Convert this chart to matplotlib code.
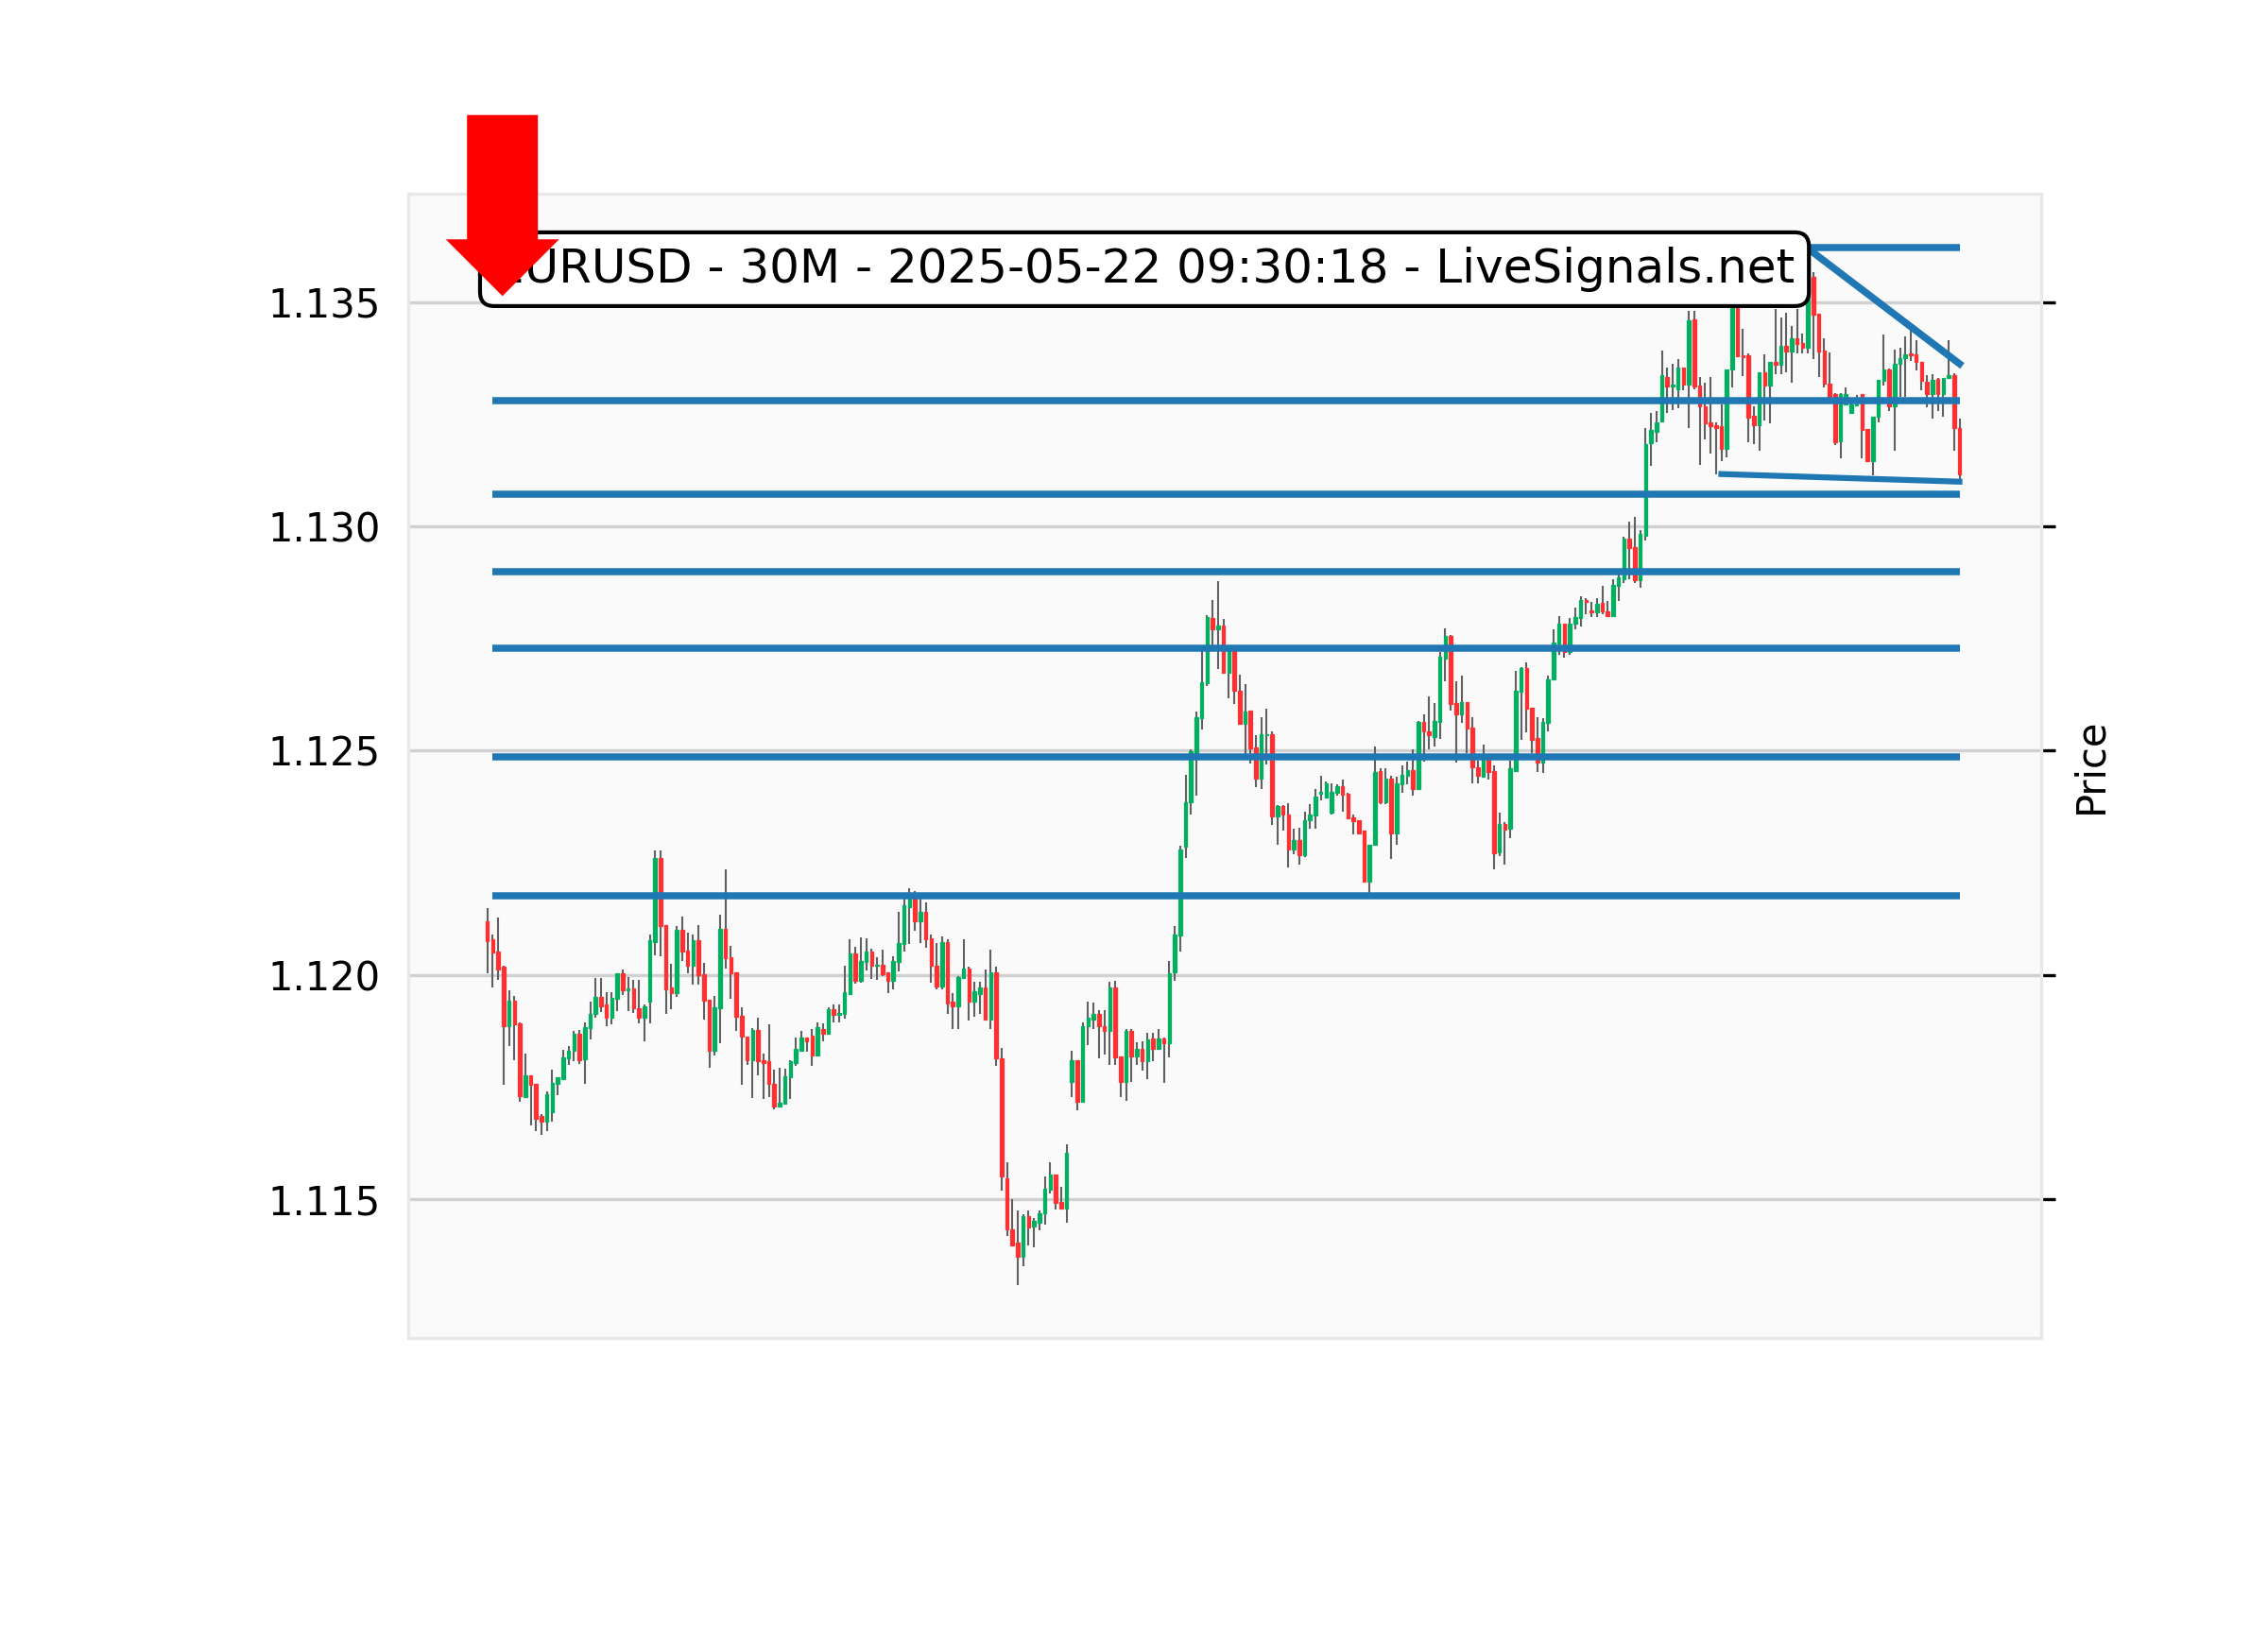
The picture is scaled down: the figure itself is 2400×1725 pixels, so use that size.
import matplotlib
matplotlib.use("Agg")
import matplotlib.pyplot as plt
from matplotlib.patches import FancyArrow
from matplotlib.ticker import FormatStrFormatter
import numpy as np

BASE = 1.1200

open_pips = [
    11.9, 7.9, 5.1, 1.8, -11.4, -5.8, -10.9, -27.2, -22.3, -24.4,
    -31.5, -32.7, -30.6, -24.2, -23.2, -18.6, -17.0, -13.2, -18.8, -11.9,
    -8.8, -4.9, -6.7, -9.6, -5.4, 0.4, -3.5, -3.0, -7.4, -9.6,
    -6.0, 7.4, 26.0, 11.2, -2.8, -4.0, 10.0, 5.4, 2.0, 7.7,
    0.1, -5.6, -17.0, -7.4, 10.2, 3.9, 0.5, -9.1, -13.7, -19.1,
    -12.2, -19.1, -19.3, -24.3, -29.4, -28.8, -22.9, -19.6, -16.9, -13.9,
    -13.5, -17.9, -12.1, -13.2, -7.7, -9.0, -8.7, -4.2, 4.7, -1.4,
    2.8, 5.3, 2.0, 2.3, 0.5, -1.4, 2.8, 6.8, 15.2, 17.0,
    11.9, 14.0, 8.1, 2.1, -2.5, 7.4, -6.0, -7.0, -0.6, 1.5,
    -6.0, -4.2, -2.7, -10.0, 0.5, -18.6, -45.3, -56.7, -59.8, -62.8,
    -53.9, -56.2, -55.2, -53.2, -47.8, -44.6, -50.6, -52.2, -23.9, -19.1,
    -28.3, -11.5, -9.9, -8.6, -11.4, -12.5, -2.8, -18.1, -23.9, -12.5,
    -18.1, -16.5, -19.3, -14.2, -16.4, -14.1, -15.3, 0.5, 8.8, 28.6,
    38.4, 49.5, 57.2, 65.1, 79.7, 77.1, 78.0, 67.3, 72.7, 63.4,
    56.0, 59.0, 50.8, 43.8, 53.4, 53.7, 35.4, 37.6, 35.8, 27.9,
    30.0, 26.7, 34.6, 35.5, 40.5, 39.5, 36.2, 40.7, 42.1, 40.4,
    35.2, 34.4, 32.1, 20.9, 29.0, 45.4, 38.4, 43.7, 31.6, 42.6,
    44.4, 45.6, 41.4, 56.4, 54.3, 53.0, 56.4, 70.6, 75.5, 60.6,
    58.1, 60.8, 55.1, 46.4, 44.2, 48.1, 45.4, 27.4, 33.7, 32.7,
    45.4, 63.2, 68.4, 59.5, 52.8, 47.4, 56.3, 65.8, 74.0, 78.4,
    72.0, 78.3, 79.5, 83.6, 81.3, 80.8, 82.9, 81.1, 80.1, 86.8,
    88.3, 97.3, 95.3, 88.0, 98.0, 118.5, 121.1, 123.5, 133.3, 131.3,
    130.5, 135.4, 131.7, 146.1, 131.5, 126.8, 123.2, 122.5, 122.3, 117.3,
    135.0, 150.0, 138.2, 138.2, 124.7, 122.5, 134.3, 131.4, 136.7, 136.1,
    140.3, 139.1, 141.9, 140.9, 139.8, 155.6, 147.4, 139.2, 131.9, 129.6,
    119.1, 127.2, 125.3, 127.0, 129.6, 121.7, 114.5, 124.4, 132.4, 135.1,
    126.8, 136.3, 137.6, 138.6, 138.4, 136.7, 132.3, 129.6, 132.9, 129.6,
    133.1, 133.7, 121.9,
]

high_pips = [
    14.8, 9.1, 12.8, 2.0, -3.5, -4.6, -10.7, -17.6, -22.3, -24.4,
    -31.1, -26.0, -21.2, -22.8, -16.7, -15.8, -12.5, -12.3, -10.5, -6.0,
    -0.7, -0.8, -3.9, -3.9, 0.4, 1.1, -0.5, -1.1, -1.1, -6.7,
    9.1, 27.8, 27.8, 11.2, 2.5, 11.0, 12.9, 9.5, 9.1, 11.1,
    2.7, -5.6, -4.7, 13.4, 23.5, 6.5, 0.5, -7.2, -13.7, -11.8,
    -9.5, -17.6, -11.1, -21.1, -20.7, -20.9, -19.0, -14.0, -12.5, -13.9,
    -12.1, -10.5, -10.9, -7.3, -6.5, -6.7, 2.1, 7.9, 6.2, 8.3,
    8.1, 5.8, 4.0, 5.6, 0.5, 4.1, 14.0, 17.0, 19.3, 18.7,
    17.0, 16.1, 9.0, 7.0, 8.6, 7.9, -4.1, -0.2, 7.9, 1.9,
    -1.6, -1.6, 1.2, 5.6, 1.9, -16.2, -41.7, -50.1, -52.6, -53.4,
    -52.6, -54.3, -52.6, -45.0, -41.8, -44.6, -47.3, -37.8, -17.0, -19.1,
    -10.7, -6.0, -6.2, -7.9, -7.9, -1.6, -1.4, -18.1, -12.1, -12.0,
    -15.0, -14.9, -13.0, -13.0, -12.1, -14.0, 3.2, 10.9, 28.8, 44.6,
    50.2, 58.7, 73.0, 80.3, 83.6, 87.8, 79.4, 73.0, 73.4, 66.9,
    64.8, 59.0, 53.4, 57.4, 59.3, 54.4, 37.8, 37.8, 38.3, 32.5,
    32.8, 36.3, 38.1, 41.4, 44.4, 43.2, 42.8, 42.5, 43.6, 40.6,
    35.8, 34.4, 32.1, 29.1, 50.9, 46.0, 46.0, 44.4, 44.2, 46.8,
    47.5, 50.2, 56.7, 58.1, 62.2, 60.6, 72.1, 77.3, 75.9, 65.5,
    66.7, 60.8, 57.5, 47.7, 51.3, 48.8, 46.7, 36.2, 34.1, 47.7,
    67.8, 68.6, 69.6, 59.5, 57.4, 57.2, 66.7, 77.1, 80.1, 78.4,
    79.5, 82.0, 84.4, 84.0, 83.1, 84.0, 86.8, 83.4, 88.3, 89.6,
    97.8, 101.0, 102.2, 99.2, 121.9, 125.4, 125.8, 139.2, 135.5, 136.2,
    137.4, 135.4, 148.0, 148.0, 133.3, 132.1, 133.3, 123.3, 127.3, 135.0,
    152.0, 152.0, 144.0, 138.6, 126.8, 134.3, 138.4, 136.7, 148.6, 146.6,
    147.6, 144.7, 148.6, 143.0, 155.5, 156.7, 147.4, 141.9, 138.8, 129.8,
    129.8, 131.0, 127.5, 129.3, 129.6, 121.7, 124.4, 132.7, 142.9, 135.3,
    139.5, 139.9, 142.4, 143.8, 141.6, 136.7, 133.8, 134.0, 133.1, 133.1,
    141.6, 134.2, 124.1,
]

low_pips = [
    0.4, -2.8, -1.1, -24.5, -15.8, -19.0, -28.3, -27.2, -33.5, -34.8,
    -35.6, -34.8, -32.7, -26.8, -23.2, -20.0, -19.3, -19.9, -24.2, -14.4,
    -9.5, -8.2, -11.4, -11.0, -8.1, -4.4, -8.1, -8.4, -10.8, -14.8,
    -10.8, 4.4, 4.2, -8.6, -7.7, -4.9, 3.2, 0.4, -2.1, -2.1,
    -10.0, -20.7, -17.9, -15.3, 1.4, -5.3, -12.4, -24.5, -20.0, -27.4,
    -22.4, -27.6, -27.2, -29.9, -29.4, -29.0, -27.6, -20.3, -17.2, -17.2,
    -20.2, -17.9, -14.8, -13.3, -10.7, -10.6, -9.7, -4.2, -1.9, -1.8,
    1.0, -0.9, -1.2, -0.2, -4.0, -3.3, 0.8, 5.3, 6.8, 9.8,
    7.0, 6.0, -1.8, -3.2, -3.2, -8.7, -12.0, -12.0, -0.9, -10.2,
    -9.3, -8.8, -10.2, -12.0, -20.2, -48.2, -58.3, -60.3, -69.1, -64.9,
    -60.3, -60.8, -56.9, -55.7, -48.7, -52.4, -52.2, -55.2, -27.2, -30.2,
    -28.6, -15.7, -12.1, -18.6, -17.8, -20.0, -20.0, -27.2, -28.0, -23.8,
    -20.0, -21.4, -23.2, -19.2, -16.7, -24.0, -18.5, -1.3, 5.3, 26.0,
    35.7, 40.0, 54.8, 64.4, 72.8, 68.3, 67.3, 61.6, 60.4, 56.0,
    48.9, 47.1, 41.9, 41.4, 47.0, 33.4, 29.0, 32.1, 23.9, 26.9,
    24.6, 26.3, 32.5, 32.5, 39.0, 39.3, 35.7, 40.0, 36.5, 34.8,
    31.4, 31.4, 20.9, 18.3, 29.0, 38.1, 38.1, 25.8, 29.1, 40.7,
    42.5, 40.0, 41.4, 47.5, 50.4, 51.0, 52.7, 65.5, 59.0, 47.3,
    56.3, 49.5, 42.8, 42.8, 43.9, 43.5, 23.5, 26.5, 24.6, 30.4,
    45.2, 52.4, 54.1, 49.5, 45.3, 45.0, 54.4, 65.8, 71.3, 70.8,
    71.4, 77.1, 77.7, 80.4, 79.9, 79.9, 80.4, 79.9, 80.1, 83.4,
    87.3, 88.2, 87.3, 86.4, 96.9, 113.5, 118.8, 123.3, 125.3, 126.0,
    126.3, 130.3, 121.9, 130.7, 113.8, 119.4, 116.3, 111.7, 114.5, 115.4,
    131.0, 137.7, 133.5, 118.8, 118.4, 117.0, 123.7, 123.0, 133.9, 133.9,
    134.3, 132.1, 138.6, 138.7, 138.7, 137.4, 133.3, 131.0, 127.5, 118.1,
    115.2, 127.2, 125.3, 126.8, 115.2, 114.5, 111.4, 123.3, 131.4, 125.8,
    117.0, 128.9, 128.9, 137.0, 134.9, 130.4, 126.5, 124.1, 125.8, 124.4,
    133.1, 117.0, 110.0,
]

close_pips = [
    7.6, 4.9, 1.2, -11.4, -5.8, -11.1, -27.1, -22.3, -24.6, -32.1,
    -32.7, -26.7, -24.0, -22.8, -18.3, -16.9, -13.1, -19.0, -11.7, -8.6,
    -4.9, -7.0, -9.6, -5.1, 0.4, -3.5, -3.0, -7.5, -9.6, -7.0,
    7.7, 26.0, 11.0, -3.2, -4.0, 10.0, 5.1, 2.0, 7.7, -0.1,
    -5.8, -17.0, -7.2, 10.2, 3.7, 0.4, -9.3, -13.8, -19.1, -12.2,
    -19.3, -19.6, -24.4, -29.4, -28.6, -22.7, -19.2, -16.5, -13.9, -14.8,
    -17.9, -11.7, -13.2, -7.7, -9.0, -8.4, -3.9, 4.7, -1.4, 3.2,
    5.3, 2.0, 2.3, 0.2, -1.4, 3.0, 7.0, 15.5, 17.0, 11.9,
    14.0, 7.9, 2.0, -2.5, 7.4, -6.3, -7.0, -0.4, 1.5, -6.0,
    -3.7, -2.7, -10.0, 0.5, -18.6, -45.0, -56.7, -60.3, -62.8, -53.9,
    -56.4, -54.8, -53.1, -47.6, -44.6, -50.8, -52.2, -39.6, -19.1, -28.3,
    -11.4, -9.6, -8.6, -11.5, -12.5, -2.7, -18.3, -23.9, -12.5, -18.1,
    -16.5, -19.2, -14.4, -16.4, -14.1, -15.3, 0.3, 9.1, 27.9, 38.4,
    49.9, 57.4, 65.3, 79.9, 77.1, 78.0, 67.3, 72.7, 63.3, 56.0,
    58.8, 50.6, 43.8, 53.6, 53.7, 35.3, 37.6, 35.8, 27.9, 30.0,
    26.7, 34.6, 35.7, 39.7, 40.8, 42.8, 40.9, 42.1, 40.2, 35.0,
    34.2, 31.6, 20.9, 29.1, 45.3, 38.5, 43.7, 31.6, 42.8, 44.7,
    45.6, 41.4, 56.4, 54.3, 53.4, 56.7, 71.0, 75.5, 60.4, 58.1,
    60.8, 54.9, 46.3, 44.4, 48.1, 45.3, 27.2, 33.7, 32.3, 46.0,
    63.4, 68.5, 59.4, 52.5, 47.3, 56.5, 66.0, 74.1, 78.4, 72.0,
    78.4, 79.9, 83.5, 83.1, 80.9, 82.7, 81.0, 80.1, 86.9, 88.7,
    97.3, 95.2, 88.0, 98.4, 118.4, 121.6, 123.2, 133.7, 131.3, 131.6,
    135.4, 131.6, 145.9, 131.2, 126.8, 123.0, 122.3, 122.0, 117.3, 135.0,
    150.0, 138.0, 137.8, 124.2, 122.5, 134.3, 131.4, 136.7, 136.1, 140.3,
    139.1, 141.9, 140.7, 139.8, 155.3, 147.2, 139.1, 131.9, 128.6, 118.8,
    129.6, 129.6, 127.2, 127.3, 121.5, 114.5, 124.4, 132.7, 135.1, 126.8,
    136.3, 137.6, 138.4, 138.2, 136.7, 132.4, 129.6, 132.6, 129.6, 133.1,
    133.7, 121.9, 111.7,
]

# support / resistance levels drawn across the chart
levels = [1.13281, 1.13071, 1.12899, 1.12728, 1.12487, 1.12176]
top_level = 1.13622
down_x, down_y = [244, 272], [1.13620, 1.13363]
low_x, low_y = [228, 272], [1.13117, 1.13100]
yticks = [1.115, 1.120, 1.125, 1.130, 1.135]
title = "EURUSD - 30M - 2025-05-22 09:30:18 - LiveSignals.net"

o = BASE + np.array(open_pips) / 1e4
h = BASE + np.array(high_pips) / 1e4
l = BASE + np.array(low_pips) / 1e4
c = BASE + np.array(close_pips) / 1e4
x = np.arange(len(o))
cols = np.where(c >= o, "#00b060", "#fe3032")

fig = plt.figure(figsize=(8, 5.75), dpi=300)
ax = fig.add_axes([0.1798, 0.1791, 0.7202, 0.7020])
ax.set_facecolor("#fafafa")
for s in ax.spines.values():
    s.set_color("#e8e8e8")
ax.grid(axis="y", color="#d0d0d0", lw=0.8)
ax.set_axisbelow(True)

# candles
ax.vlines(x, l, h, color="#606060", lw=0.5, zorder=2)
ax.bar(x, c - o, bottom=o, width=0.62, color=cols, edgecolor=cols,
       linewidth=0.3, zorder=3)

# lines
ax.hlines(levels, 1, len(x) - 1, color="#1f77b4", lw=1.8, zorder=4)
ax.hlines(top_level, down_x[0], down_x[1], color="#1f77b4", lw=1.8, zorder=4)
ax.plot(down_x, down_y, color="#1f77b4", lw=1.8, zorder=4)
ax.plot(low_x, low_y, color="#1f77b4", lw=1.5, zorder=4)

ax.set_xlim(-14.7, 287.1)
ax.set_ylim(1.1119, 1.13742)
ax.set_yticks(yticks)
ax.yaxis.set_major_formatter(FormatStrFormatter("%.3f"))
ax.tick_params(axis="y", left=False, right=True, labelleft=True,
               labelright=False, labelsize=10)
ax.tick_params(axis="x", bottom=False, labelbottom=False)
ax.yaxis.set_label_position("right")
ax.set_ylabel("Price", fontsize=10)

ax.text(0.0529, 0.9341, title, transform=ax.transAxes, fontsize=12,
        ha="left", va="center", zorder=6,
        bbox=dict(boxstyle="round,pad=0.3", fc="white", ec="black", lw=1.0))

# red arrow marking the signal (figure coords)
W, H = 2400, 1725
arrow = FancyArrow(531.7 / W, 1 - 121.7 / H, 0, -(313.3 - 121.7) / H,
                   width=75 / W, head_width=120 / W, head_length=60 / H,
                   length_includes_head=True, color="red", lw=0,
                   transform=fig.transFigure, zorder=10)
fig.add_artist(arrow)

fig.savefig("out.png", dpi=300)
